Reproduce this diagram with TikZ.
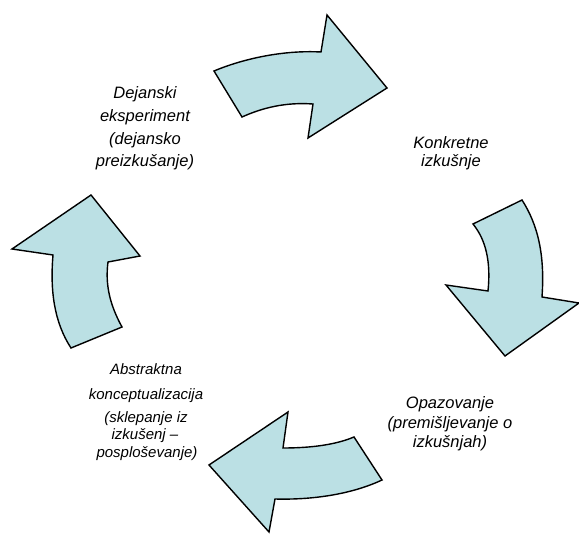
\documentclass[tikz,border=0pt]{standalone}
\usepackage{fontspec}
\setmainfont{Liberation Sans}
\definecolor{arrowfill}{RGB}{187,224,228}
\begin{document}
\begin{tikzpicture}[x=1pt,y=-1pt,
  cyc/.style={fill=arrowfill,draw=black,line width=1.4pt,line join=miter},
  lbl/.style={anchor=base,inner sep=0pt,font=\itshape\fontsize{16.5}{18}\selectfont},
  lbls/.style={anchor=base,inner sep=0pt,font=\itshape\fontsize{15}{17}\selectfont}]
\useasboundingbox (0,0) rectangle (579,534);
% top arrow (pointing right)
\path[cyc] (214,71) .. controls (245,58) and (285,50) .. (321,52) -- (327,15) -- (387,88) -- (308,138) -- (313,104) .. controls (285,102) and (262,108) .. (242,117) -- cycle;
% right arrow (pointing down)
\path[cyc] (473,224) -- (522,200) .. controls (538,225) and (545,255) .. (542,297) -- (579,303) -- (505,356) -- (446,285) -- (488,291) .. controls (491,262) and (486,240) .. (473,224) -- cycle;
% bottom arrow (pointing left)
\path[cyc] (354,437) -- (382,480) .. controls (350,495) and (310,500) .. (275,499) -- (269,532) -- (209,465) -- (288,412) -- (283,448) .. controls (310,448) and (335,445) .. (354,437) -- cycle;
% left arrow (pointing up)
\path[cyc] (71,348) -- (122,327) .. controls (110,305) and (105,285) .. (108,262) -- (140,256) -- (91,195) -- (12,249) -- (53,255) .. controls (50,290) and (54,322) .. (71,348) -- cycle;
% labels
\node[lbl] (d1) at (145,99) {Dejanski};
\node[lbl] (d2) at (145,122) {eksperiment};
\node[lbl] (d3) at (145,145) {(dejansko};
\node[lbl] (d4) at (145,167) {preizkušanje)};
\node[lbl] (k1) at (451,149) {Konkretne};
\node[lbl] (k2) at (451,167) {izkušnje};
\node[lbl] (o1) at (450,409) {Opazovanje};
\node[lbl] (o2) at (450,429) {(premišljevanje o};
\node[lbl] (o3) at (450,448) {izkušnjah)};
\node[lbls] (a1) at (146,375) {Abstraktna};
\node[lbls] (a2) at (146,400) {konceptualizacija};
\node[lbls] (a3) at (146,423) {(sklepanje iz};
\node[lbls] (a4) at (145,440) {izkušenj –};
\node[lbls] (a5) at (147,458) {posploševanje)};
\end{tikzpicture}
\end{document}
